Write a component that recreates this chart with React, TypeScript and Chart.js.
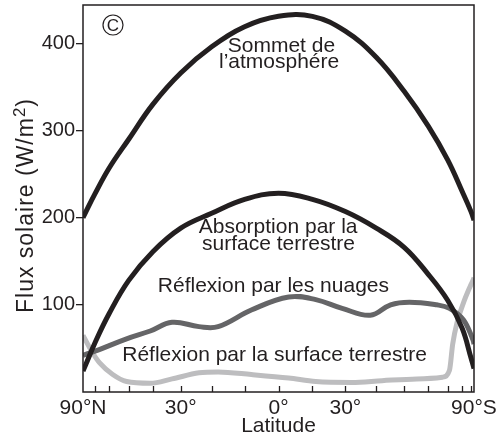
import React, { useEffect, useRef } from 'react';
import { Chart, registerables } from 'chart.js';

Chart.register(...registerables);

const INK = '#231f20';
const FONT = '"Liberation Sans", Arial, Helvetica, sans-serif';

// Latitudes in degrees (north positive, south negative), ordered from 90°N to 90°S
const gridLat = [90, 80, 70, 60, 50, 40, 30, 20, 10, 0, -10, -20, -30, -40, -50, -60, -70, -80, -90];
const topFlux = [200, 207, 227, 257, 290, 330, 366, 396, 419, 431, 431, 414, 384, 345, 305, 266, 230, 207, 197];
const absFlux = [24, 32, 56, 90, 128, 161, 188, 205, 221, 228, 221, 207, 188, 166, 135, 105, 73, 39, 27];

const cloudLat = [90, 66, 51, 41, 33, 24, 18, 8, -3, -11, -19, -28, -35, -42, -54, -61, -71, -84, -90];
const cloudFlux = [42, 49, 61, 70, 80, 75, 75, 94, 109, 106, 96, 88, 100, 103, 100, 96, 83, 60, 55];

const surfLat = [90, 72, 66, 58, 51, 41, 33, 24, 18, 8, -3, -11, -22, -32, -45, -57, -61, -63, -66, -71, -78, -84, -90];
const surfFlux = [65, 45, 33, 20, 12, 10, 15, 22, 23, 20, 16, 12, 11, 13, 15, 17, 25, 55, 80, 102, 120, 128, 131];

// Axis ticks
const xTickLats = [90, 70, 60, 50, 40, 30, 20, 10, 0, -10, -20, -30, -40, -50, -60, -70, -80, -90];
const xLabelLats = [90, 30, 0, -20, -90];
const xLabelTexts = ['90°N', '30°', '0°', '30°', '90°S'];
const yTickValues = [100, 200, 300, 400];

const seriesNames = [
  'Sommet de l’atmosphére',
  'Absorption par la surface terrestre',
  'Réflexion par les nuages',
  'Réflexion par la surface terrestre',
];

const annotationLines = [
  'Sommet de',
  'l’atmosphére',
  'Absorption par la',
  'surface terrestre',
  'Réflexion par les nuages',
  'Réflexion par la surface terrestre',
];

const toX = (lat: number) => -Math.sin((lat * Math.PI) / 180);
const pts = (lats: number[], vals: number[]) => lats.map((l, i) => ({ x: toX(l), y: vals[i] }));

export default function App() {
  const ref = useRef<HTMLCanvasElement | null>(null);

  useEffect(() => {
    if (!ref.current) return;

    const annPos = [
      { x: 0.015, y: 390 },
      { x: 0.003, y: 372 },
      { x: -0.002, y: 182 },
      { x: 0.0, y: 163 },
      { x: -0.026, y: 115 },
      { x: -0.02, y: 35 },
    ];

    const decor = {
      id: 'decor',
      afterDraw(chart: any) {
        const { ctx, chartArea: a, scales } = chart;
        const xs = scales.x;
        const ys = scales.y;
        ctx.save();
        // frame
        ctx.strokeStyle = INK;
        ctx.lineWidth = 1.5;
        ctx.strokeRect(a.left, a.top, a.right - a.left, a.bottom - a.top);
        // inner x ticks
        ctx.lineWidth = 1.3;
        xs.ticks.forEach((t: any, i: number) => {
          if (Math.abs(t.value) > 0.999) return;
          const px = Math.round(xs.getPixelForTick(i)) + 0.5;
          ctx.beginPath();
          ctx.moveTo(px, a.bottom);
          ctx.lineTo(px, a.bottom - 6);
          ctx.stroke();
        });
        // circled C
        ctx.lineWidth = 1.2;
        ctx.beginPath();
        ctx.arc(a.left + 30, a.top + 20, 10, 0, Math.PI * 2);
        ctx.stroke();
        ctx.fillStyle = INK;
        ctx.font = `17px ${FONT}`;
        ctx.textAlign = 'center';
        ctx.textBaseline = 'middle';
        ctx.fillText('C', a.left + 30, a.top + 21);
        // annotations
        ctx.font = `21px ${FONT}`;
        ctx.textBaseline = 'alphabetic';
        annotationLines.forEach((txt, i) => {
          const p = annPos[i];
          ctx.fillText(txt, xs.getPixelForValue(p.x), ys.getPixelForValue(p.y));
        });
        // y title with superscript
        ctx.translate(33, (a.top + a.bottom) / 2 + 7);
        ctx.rotate(-Math.PI / 2);
        ctx.textAlign = 'left';
        (ctx as any).letterSpacing = '1px';
        const main = 'Flux solaire (W/m';
        ctx.font = `23px ${FONT}`;
        const w1 = ctx.measureText(main).width;
        const w3 = ctx.measureText(')').width;
        ctx.font = `17px ${FONT}`;
        const w2 = ctx.measureText('2').width;
        const total = w1 + w2 + w3;
        const x0 = -total / 2;
        ctx.font = `23px ${FONT}`;
        ctx.fillText(main, x0, 0);
        ctx.font = `17px ${FONT}`;
        ctx.fillText('2', x0 + w1, -8);
        ctx.font = `23px ${FONT}`;
        ctx.fillText(')', x0 + w1 + w2, 0);
        ctx.restore();
      },
    };

    const line = (label: string, data: any[], color: string, width: number, monotone: boolean) => ({
      label,
      data,
      borderColor: color,
      backgroundColor: color,
      borderWidth: width,
      pointRadius: 0,
      fill: false,
      tension: 0.4,
      cubicInterpolationMode: monotone ? ('monotone' as const) : ('default' as const),
      clip: 0,
    });

    const chart = new Chart(ref.current, {
      type: 'line',
      data: {
        datasets: [
          line(seriesNames[0], pts(gridLat, topFlux), INK, 5, false),
          line(seriesNames[1], pts(gridLat, absFlux), INK, 5, false),
          line(seriesNames[2], pts(cloudLat, cloudFlux), '#656567', 5, false),
          line(seriesNames[3], pts(surfLat, surfFlux), '#bdbdbf', 5, true),
        ],
      },
      options: {
        animation: false,
        responsive: false,
        maintainAspectRatio: false,
        layout: { padding: { top: 5, right: 25, left: 0, bottom: 0 } },
        plugins: { legend: { display: false }, tooltip: { enabled: false } },
        scales: {
          x: {
            type: 'linear',
            min: -1,
            max: 1,
            afterBuildTicks: (s: any) => {
              s.ticks = xTickLats.map((l) => ({ value: toX(l) }));
            },
            afterFit: (s: any) => {
              s.height = 47;
              s.paddingLeft = 0;
              s.paddingRight = 0;
            },
            grid: { display: false, drawTicks: false },
            border: { display: false },
            ticks: {
              autoSkip: false,
              maxRotation: 0,
              padding: 4,
              color: INK,
              font: { family: FONT, size: 21 },
              callback: (v: any) => {
                const idx = xLabelLats.findIndex((l) => Math.abs(toX(l) - v) < 1e-6);
                return idx >= 0 ? xLabelTexts[idx] : '';
              },
            },
            title: {
              display: true,
              text: 'Latitude',
              color: INK,
              font: { family: FONT, size: 21, lineHeight: 1.2 },
              padding: { top: 0, bottom: 0 },
            },
          },
          y: {
            type: 'linear',
            min: 0,
            max: 444,
            afterBuildTicks: (s: any) => {
              s.ticks = yTickValues.map((v) => ({ value: v }));
            },
            afterFit: (s: any) => {
              s.width = 83;
              s.paddingTop = 0;
              s.paddingBottom = 0;
            },
            grid: {
              drawOnChartArea: false,
              drawTicks: true,
              tickLength: 7,
              color: INK,
              lineWidth: 1.3,
            },
            border: { display: false },
            ticks: {
              padding: 1,
              color: INK,
              font: { family: FONT, size: 20 },
              callback: (v: any) => String(v),
            },
          },
        },
      },
      plugins: [decor],
    });

    return () => chart.destroy();
  }, []);

  return (
    <div style={{ position: 'fixed', left: 0, top: 0, width: 499, height: 439, background: '#fff' }}>
      <canvas ref={ref} width={499} height={439} style={{ width: 499, height: 439 }} />
    </div>
  );
}
